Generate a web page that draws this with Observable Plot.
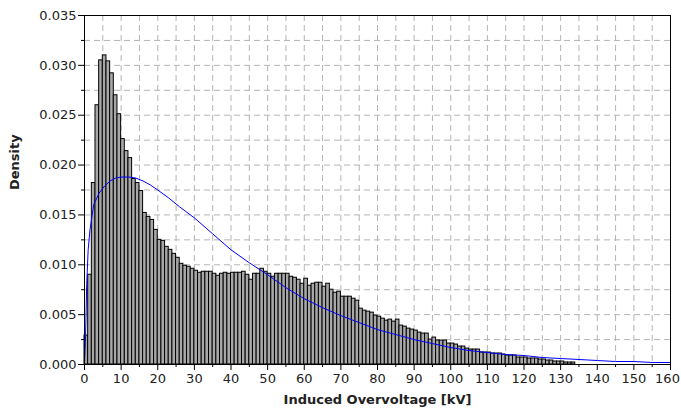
<!DOCTYPE html>
<html>
<head>
<meta charset="utf-8">
<script src="https://cdn.jsdelivr.net/npm/d3@7"></script>
<script src="https://cdn.jsdelivr.net/npm/@observablehq/plot@0.6"></script>
<style>
  html, body { margin: 0; padding: 0; background: #fff; }
</style>
</head>
<body>
<div id="chart"></div>
<script>
// Histogram: density per 1 kV bin, starting at 0 kV
const binWidth = 1;
const binDensity = [
  0.0029, 0.0090, 0.0182, 0.0260, 0.0305, 0.0310, 0.0304, 0.0292, 0.0270, 0.0251,
  0.0226, 0.0214, 0.0207, 0.0186, 0.0182, 0.0174, 0.0152, 0.0148, 0.0145, 0.0135,
  0.0125, 0.0124, 0.0118, 0.0115, 0.0111, 0.0107, 0.0101, 0.0099, 0.0098, 0.0096,
  0.0094, 0.0092, 0.0093, 0.0093, 0.0093, 0.0091, 0.0089, 0.0091, 0.0092, 0.0091,
  0.0092, 0.0092, 0.0092, 0.0093, 0.0090, 0.0085, 0.0091, 0.0091, 0.0096, 0.0093,
  0.0091, 0.0088, 0.0091, 0.0091, 0.0091, 0.0091, 0.0088, 0.0087, 0.0085, 0.0081,
  0.0086, 0.0079, 0.0081, 0.0082, 0.0082, 0.0078, 0.0081, 0.0075, 0.0072, 0.0073,
  0.0068, 0.0068, 0.0068, 0.0066, 0.0064, 0.0056, 0.0054, 0.0053, 0.0052, 0.0049,
  0.0048, 0.0046, 0.0044, 0.0045, 0.0043, 0.0045, 0.0039, 0.0038, 0.0036, 0.0035,
  0.0034, 0.0032, 0.0031, 0.0031, 0.0025, 0.0027, 0.0024, 0.0024, 0.0024, 0.0021,
  0.0021, 0.0020, 0.0018, 0.0018, 0.0016, 0.0015, 0.0015, 0.0015, 0.0012, 0.0012,
  0.0012, 0.0011, 0.0011, 0.0011, 0.0010, 0.0009, 0.0009, 0.0009, 0.0007, 0.0007,
  0.0007, 0.0006, 0.0006, 0.0006, 0.0005, 0.0005, 0.0004, 0.0004, 0.0003, 0.0003,
  0.0003, 0.0002, 0.0002, 0.0002
];

// Fitted density curve (blue)
const curveKV = [0, 0.3, 0.6, 1, 1.5, 2.5, 4, 5.5, 7, 8.5, 10, 12, 14, 16, 18, 20, 23, 26, 30, 35,
  40, 45, 50, 55, 60, 65, 70, 75, 80, 85, 90, 95, 100, 105, 110, 115, 120, 125, 130, 135,
  140, 145, 150, 155, 160];
const curveDensity = [0, 0.0030, 0.0080, 0.0115, 0.0135, 0.0160, 0.0172, 0.0179, 0.0184, 0.0187,
  0.0188, 0.0188, 0.0187, 0.0184, 0.0180, 0.0175, 0.0167, 0.0158, 0.0147, 0.0131,
  0.0115, 0.0102, 0.0090, 0.0077, 0.0066, 0.0057, 0.0049, 0.0042, 0.0035, 0.0030,
  0.0025, 0.0021, 0.0017, 0.0014, 0.0012, 0.0010, 0.0009, 0.0007, 0.0006, 0.0005,
  0.0004, 0.0003, 0.0003, 0.0002, 0.0002];

// Axis ticks
const xMajorTicks = d3.range(0, 161, 10);
const xLabelTicks = d3.range(0, 151, 10);
const xLastTick = [160];
const xMinorTicks = d3.range(5, 160, 10);
const xGridTicks = d3.range(5, 160, 5);
const yMajorTicks = d3.range(0, 0.0351, 0.005);
const yMinorTicks = d3.range(0.0025, 0.035, 0.005);
const yGridTicks = d3.range(0.0025, 0.035, 0.0025);

const xLabel = "Induced Overvoltage [kV]";
const yLabel = "Density";

const bins = binDensity.map((d, i) => ({x0: i * binWidth, x1: (i + 1) * binWidth, density: d}));
const curve = curveKV.map((x, i) => ({x, y: curveDensity[i]}));

const chart = Plot.plot({
  width: 681,
  height: 414,
  marginLeft: 84,
  marginRight: 11,
  marginTop: 15,
  marginBottom: 50,
  style: {fontFamily: "DejaVu Sans", fontSize: "13px", color: "#222", background: "#fff"},
  x: {domain: [0, 160]},
  y: {domain: [0, 0.035]},
  marks: [
    Plot.gridX(xGridTicks, {stroke: "#b4b4b4", strokeOpacity: 1, strokeDasharray: "6,4"}),
    Plot.gridY(yGridTicks, {stroke: "#b4b4b4", strokeOpacity: 1, strokeDasharray: "6,4"}),
    Plot.rectY(bins, {x1: "x0", x2: "x1", y: "density", fill: "#a8a8a8", stroke: "#000", strokeWidth: 1}),
    Plot.line(curve, {x: "x", y: "y", stroke: "#0000ff", strokeWidth: 1}),
    Plot.frame({stroke: "#000"}),
    Plot.axisX(xMajorTicks, {tickSize: 6, tickFormat: () => "", label: null, stroke: "#000"}),
    Plot.axisX(xLabelTicks, {tickSize: 6, tickPadding: 3, label: null, stroke: "none"}),
    Plot.axisX(xLastTick, {tickSize: 6, tickPadding: 3, label: null, stroke: "none", dx: -3}),
    Plot.axisX(xMinorTicks, {tickSize: 3, tickFormat: () => "", label: null, stroke: "#000"}),
    Plot.axisY(yMajorTicks, {tickSize: 6, tickPadding: 2, tickFormat: d3.format(".3f"), label: null, stroke: "#000"}),
    Plot.axisY(yMinorTicks, {tickSize: 3, tickFormat: () => "", label: null, stroke: "#000"}),
    Plot.text([xLabel], {frameAnchor: "bottom", dy: 39, text: d => d, fontWeight: "bold", fontSize: 13, fill: "#222"}),
    Plot.text([yLabel], {frameAnchor: "left", dx: -70, rotate: -90, text: d => d, fontWeight: "bold", fontSize: 13, fill: "#222"})
  ]
});
document.getElementById("chart").appendChild(chart);
</script>
</body>
</html>
